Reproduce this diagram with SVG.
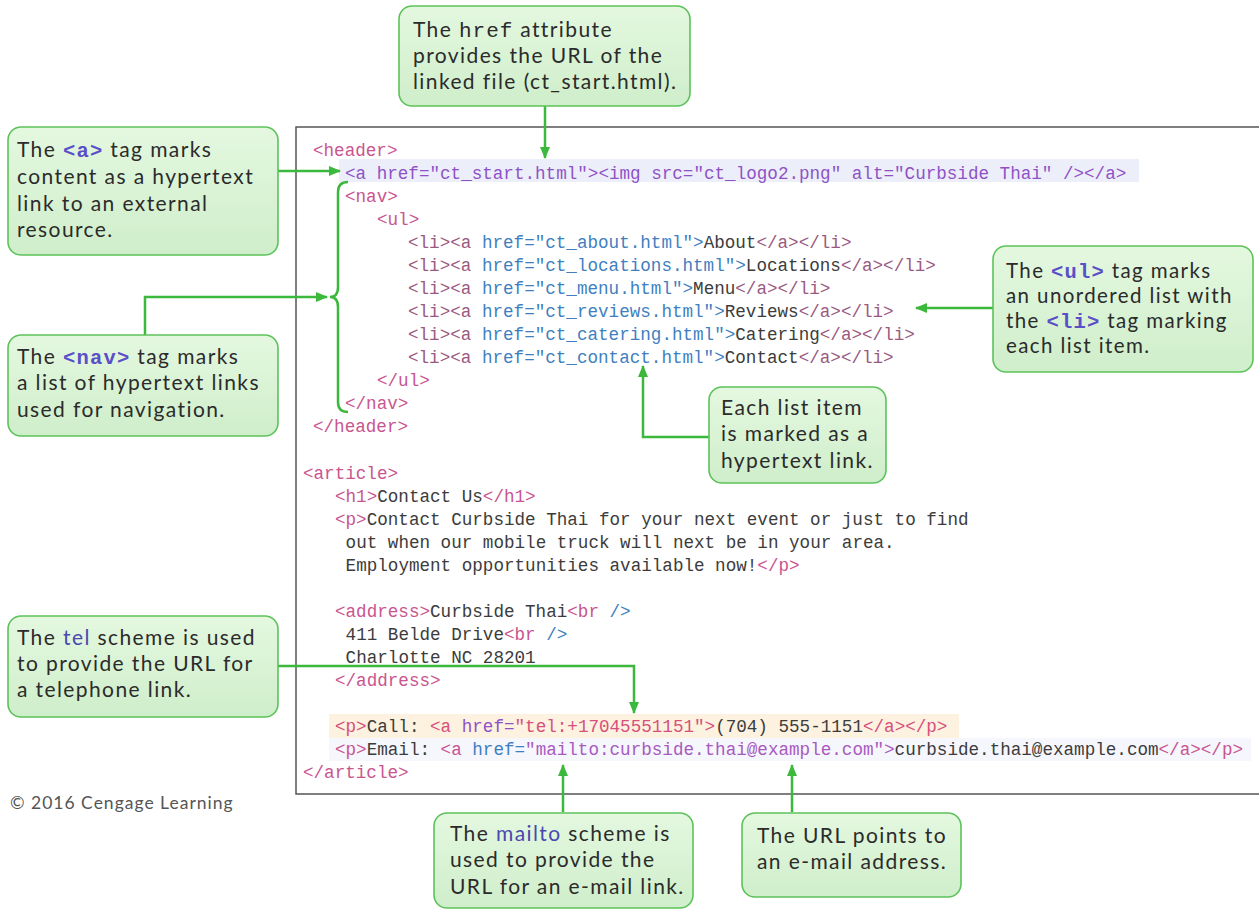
<svg xmlns="http://www.w3.org/2000/svg" width="1259" height="910" viewBox="0 0 1259 910">
<style>
.code{font-family:"Liberation Mono","DejaVu Sans Mono",monospace;font-size:17.6px;fill:#3c3c3c;white-space:pre}
.t{fill:#c9558f}.a{fill:#3f7fbf}.d{fill:#3c3c3c}.p{fill:#8f52c6}.m{fill:#a85ac0}.r{fill:#d5507c}.l{fill:#9a5a80}
.box{fill:url(#g);stroke:#5cc25a;stroke-width:1.6}
.ct{font-family:Lato,"Noto Sans",sans-serif;font-size:21px;letter-spacing:1.4px;fill:#2b2b2b}
.ctu{font-size:20.5px}
.kw{font-family:"Liberation Mono",monospace;font-weight:bold;font-size:20.5px;letter-spacing:1.2px;fill:#5a4fc8}
.kh{font-family:"Liberation Mono",monospace;font-size:21px;letter-spacing:1px;fill:#2b2b2b}
.sc{fill:#4a48b0}
.con{fill:none;stroke:#3cb83c;stroke-width:2.5}
</style>
<defs>
<linearGradient id="g" x1="0" y1="0" x2="0" y2="1">
<stop offset="0" stop-color="#e4f8e0"/>
<stop offset="1" stop-color="#cfeeca"/>
</linearGradient>
<marker id="ah" viewBox="0 0 12 10" refX="11" refY="5" markerWidth="12" markerHeight="10" markerUnits="userSpaceOnUse" orient="auto">
<path d="M0,0 L12,5 L0,10 z" fill="#3cb83c"/>
</marker>
</defs>
<rect width="1259" height="910" fill="#ffffff"/>

<g id="code-panel">
<rect x="296" y="127" width="980" height="667" fill="#ffffff" stroke="#555" stroke-width="1.5"/>
<rect x="339" y="159" width="800" height="23" fill="#eceffa"/>
<rect x="329" y="714" width="630" height="24" fill="#fdf1e0"/>
<rect x="329" y="738" width="922" height="23" fill="#f6f6fd"/>
<text class="code" x="313" y="156"><tspan class="t">&lt;header&gt;</tspan></text>
<text class="code" x="345" y="179"><tspan class="p">&lt;a href="ct_start.html"&gt;&lt;img src="ct_logo2.png" alt="Curbside Thai" /&gt;&lt;/a&gt;</tspan></text>
<text class="code" x="345" y="202"><tspan class="t">&lt;nav&gt;</tspan></text>
<text class="code" x="377" y="225"><tspan class="t">&lt;ul&gt;</tspan></text>
<text class="code" x="408" y="248"><tspan class="l">&lt;li&gt;&lt;a </tspan><tspan class="a">href="ct_about.html"&gt;</tspan><tspan class="d">About</tspan><tspan class="l">&lt;/a&gt;&lt;/li&gt;</tspan></text>
<text class="code" x="408" y="271"><tspan class="l">&lt;li&gt;&lt;a </tspan><tspan class="a">href="ct_locations.html"&gt;</tspan><tspan class="d">Locations</tspan><tspan class="l">&lt;/a&gt;&lt;/li&gt;</tspan></text>
<text class="code" x="408" y="294"><tspan class="l">&lt;li&gt;&lt;a </tspan><tspan class="a">href="ct_menu.html"&gt;</tspan><tspan class="d">Menu</tspan><tspan class="l">&lt;/a&gt;&lt;/li&gt;</tspan></text>
<text class="code" x="408" y="317"><tspan class="l">&lt;li&gt;&lt;a </tspan><tspan class="a">href="ct_reviews.html"&gt;</tspan><tspan class="d">Reviews</tspan><tspan class="l">&lt;/a&gt;&lt;/li&gt;</tspan></text>
<text class="code" x="408" y="340"><tspan class="l">&lt;li&gt;&lt;a </tspan><tspan class="a">href="ct_catering.html"&gt;</tspan><tspan class="d">Catering</tspan><tspan class="l">&lt;/a&gt;&lt;/li&gt;</tspan></text>
<text class="code" x="408" y="363"><tspan class="l">&lt;li&gt;&lt;a </tspan><tspan class="a">href="ct_contact.html"&gt;</tspan><tspan class="d">Contact</tspan><tspan class="l">&lt;/a&gt;&lt;/li&gt;</tspan></text>
<text class="code" x="377" y="386"><tspan class="t">&lt;/ul&gt;</tspan></text>
<text class="code" x="345" y="409"><tspan class="t">&lt;/nav&gt;</tspan></text>
<text class="code" x="313" y="432"><tspan class="t">&lt;/header&gt;</tspan></text>
<text class="code" x="303" y="479"><tspan class="t">&lt;article&gt;</tspan></text>
<text class="code" x="335" y="502"><tspan class="t">&lt;h1&gt;</tspan>Contact Us<tspan class="t">&lt;/h1&gt;</tspan></text>
<text class="code" x="335" y="525"><tspan class="t">&lt;p&gt;</tspan>Contact Curbside Thai for your next event or just to find</text>
<text class="code" x="345.6" y="548">out when our mobile truck will next be in your area.</text>
<text class="code" x="345.6" y="571">Employment opportunities available now!<tspan class="t">&lt;/p&gt;</tspan></text>
<text class="code" x="335" y="617"><tspan class="t">&lt;address&gt;</tspan>Curbside Thai<tspan class="t">&lt;br </tspan><tspan class="a">/&gt;</tspan></text>
<text class="code" x="345.6" y="640">411 Belde Drive<tspan class="t">&lt;br </tspan><tspan class="a">/&gt;</tspan></text>
<text class="code" x="345.6" y="663">Charlotte NC 28201</text>
<text class="code" x="335" y="686"><tspan class="t">&lt;/address&gt;</tspan></text>
<text class="code" x="335" y="732"><tspan class="r">&lt;p&gt;</tspan>Call: <tspan class="r">&lt;a </tspan><tspan class="p">href=</tspan><tspan class="r">"tel:+17045551151"&gt;</tspan>(704) 555-1151<tspan class="r">&lt;/a&gt;&lt;/p&gt;</tspan></text>
<text class="code" x="335" y="755"><tspan class="t">&lt;p&gt;</tspan>Email: <tspan class="t">&lt;a </tspan><tspan class="a">href=</tspan><tspan class="m">"mailto:curbside.thai@example.com"&gt;</tspan>curbside.thai@example.com<tspan class="t">&lt;/a&gt;&lt;/p&gt;</tspan></text>
<text class="code" x="303" y="778"><tspan class="t">&lt;/article&gt;</tspan></text>
</g>

<g id="connectors">
<path class="con" d="M545,106 V158" marker-end="url(#ah)"/>
<path class="con" d="M278,171 H340" marker-end="url(#ah)"/>
<path class="con" d="M348,182 Q338,182 338,192 V287 Q338,297 330,297 Q338,297 338,307 V402 Q338,412 348,412"/>
<path class="con" d="M145,335 V297 H327" marker-end="url(#ah)"/>
<path class="con" d="M993,308 H916" marker-end="url(#ah)"/>
<path class="con" d="M709,437 H643 V366" marker-end="url(#ah)"/>
<path class="con" d="M278,666 H634 V713" marker-end="url(#ah)"/>
<path class="con" d="M563,812 V765" marker-end="url(#ah)"/>
<path class="con" d="M792,812 V765" marker-end="url(#ah)"/>
</g>

<g id="node-href">
<rect class="box" x="399" y="6" width="291" height="100" rx="13"/>
<text class="ct" x="413" y="37">The <tspan class="kh">href</tspan> attribute</text>
<text class="ct" x="413" y="63">provides the URL of the</text>
<text class="ct" x="413" y="89">linked file (ct_start.html).</text>
</g>

<g id="node-a">
<rect class="box" x="8" y="127" width="270" height="128" rx="13"/>
<text class="ct" x="17" y="157">The <tspan class="kw">&lt;a&gt;</tspan> tag marks</text>
<text class="ct" x="17" y="184">content as a hypertext</text>
<text class="ct" x="17" y="211">link to an external</text>
<text class="ct" x="17" y="237">resource.</text>
</g>

<g id="node-nav">
<rect class="box" x="8" y="335" width="270" height="101" rx="13"/>
<text class="ct" x="17" y="364">The <tspan class="kw">&lt;nav&gt;</tspan> tag marks</text>
<text class="ct" x="17" y="390">a list of hypertext links</text>
<text class="ct" x="17" y="417">used for navigation.</text>
</g>

<g id="node-ul">
<rect class="box" x="993" y="246" width="260" height="126" rx="13"/>
<text class="ct ctu" x="1006" y="278">The <tspan class="kw">&lt;ul&gt;</tspan> tag marks</text>
<text class="ct ctu" x="1006" y="303">an unordered list with</text>
<text class="ct ctu" x="1006" y="328">the <tspan class="kw">&lt;li&gt;</tspan> tag marking</text>
<text class="ct ctu" x="1006" y="353">each list item.</text>
</g>

<g id="node-each">
<rect class="box" x="709" y="387" width="177" height="96" rx="13"/>
<text class="ct" x="721" y="415">Each list item</text>
<text class="ct" x="721" y="441">is marked as a</text>
<text class="ct" x="721" y="468">hypertext link.</text>
</g>

<g id="node-tel">
<rect class="box" x="8" y="616" width="270" height="101" rx="13"/>
<text class="ct" x="17" y="645">The <tspan class="sc">tel</tspan> scheme is used</text>
<text class="ct" x="17" y="671">to provide the URL for</text>
<text class="ct" x="17" y="697">a telephone link.</text>
</g>

<g id="node-mailto">
<rect class="box" x="434" y="813" width="259" height="95" rx="13"/>
<text class="ct" x="450" y="841">The <tspan class="sc">mailto</tspan> scheme is</text>
<text class="ct" x="450" y="867">used to provide the</text>
<text class="ct" x="450" y="894">URL for an e-mail link.</text>
</g>

<g id="node-url">
<rect class="box" x="742" y="813" width="219" height="84" rx="13"/>
<text class="ct" x="757" y="843">The URL points to</text>
<text class="ct" x="757" y="869">an e-mail address.</text>
</g>

<text x="10" y="809" font-family="Lato, 'Noto Sans', sans-serif" font-size="17.5" letter-spacing="1" fill="#555">© 2016 Cengage Learning</text>
</svg>
